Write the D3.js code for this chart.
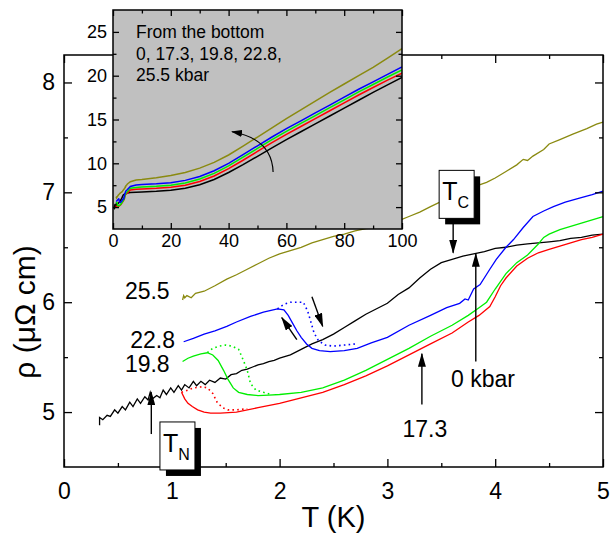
<!DOCTYPE html>
<html>
<head>
<meta charset="utf-8">
<script src="https://d3js.org/d3.v7.min.js"></script>
<style>
  body { margin: 0; background: #fff; }
  text { font-family: "Liberation Sans", Arial, Helvetica, sans-serif; fill: #000; }
  .frame { fill: none; stroke: #000; stroke-width: 1.5; }
  .axis path { display: none; }
  .axis line { stroke: #000; stroke-width: 1.3; }
</style>
</head>
<body>
<script>
// ---- main panel data: [T (K), rho (uOhm cm)] ----
var p0 = [[0.33,4.88],[0.33,4.95],[0.36,4.93],[0.40,4.97],[0.43,4.96],[0.47,5.02],[0.50,4.99],[0.54,5.05],[0.57,5.02],
  [0.61,5.09],[0.64,5.05],[0.68,5.12],[0.71,5.08],[0.75,5.14],[0.78,5.11],[0.80,5.18],[0.82,5.12],[0.86,5.15],[0.89,5.13],
  [0.92,5.20],[0.95,5.16],[0.99,5.22],[1.02,5.18],[1.06,5.24],[1.09,5.20],[1.12,5.25],[1.16,5.22],[1.20,5.28],[1.23,5.24],
  [1.27,5.28],[1.31,5.25],[1.35,5.29],[1.40,5.27],[1.45,5.31],[1.50,5.30],[1.55,5.34],[1.60,5.35],[1.65,5.38],[1.70,5.39],
  [1.75,5.41],[1.80,5.43],[1.85,5.44],[1.90,5.46],[1.95,5.47],[2.00,5.49],[2.10,5.52],[2.20,5.57],[2.30,5.62],[2.40,5.66],
  [2.50,5.71],[2.60,5.77],[2.70,5.83],[2.80,5.89],[2.90,5.94],[3.00,5.99],[3.10,6.07],[3.20,6.13],[3.30,6.22],[3.40,6.30],
  [3.50,6.36],[3.60,6.39],[3.70,6.42],[3.80,6.44],[3.90,6.46],[4.00,6.49],[4.10,6.50],[4.20,6.52],[4.30,6.53],[4.40,6.54],
  [4.50,6.55],[4.60,6.56],[4.70,6.58],[4.80,6.59],[4.90,6.61],[5.00,6.62]];

var p173 = [[1.09,5.18],[1.12,5.12],[1.15,5.08],[1.19,5.05],[1.24,5.02],[1.30,5.00],[1.36,4.99],[1.45,4.99],[1.60,5.00],
  [1.80,5.04],[2.00,5.08],[2.20,5.13],[2.40,5.18],[2.60,5.25],[2.80,5.33],[3.00,5.42],[3.20,5.52],[3.40,5.62],[3.60,5.72],
  [3.75,5.82],[3.85,5.88],[3.95,5.96],[4.00,6.05],[4.05,6.15],[4.10,6.22],[4.20,6.33],[4.30,6.40],[4.40,6.45],[4.50,6.48],
  [4.60,6.51],[4.70,6.54],[4.80,6.57],[4.90,6.59],[5.00,6.62]];
var p173dot = [[1.09,5.18],[1.15,5.20],[1.20,5.22],[1.28,5.23],[1.33,5.22],[1.38,5.17],[1.42,5.09],[1.47,5.04],[1.52,5.02],
  [1.60,5.02],[1.70,5.03]];

var p198 = [[1.10,5.46],[1.15,5.49],[1.20,5.51],[1.27,5.53],[1.33,5.54],[1.38,5.52],[1.43,5.47],[1.48,5.38],[1.52,5.30],
  [1.57,5.22],[1.62,5.18],[1.70,5.16],[1.80,5.15],[1.90,5.155],[2.00,5.16],[2.20,5.18],[2.40,5.22],[2.60,5.29],[2.80,5.38],
  [3.00,5.48],[3.20,5.58],[3.40,5.69],[3.60,5.79],[3.75,5.88],[3.85,5.95],[3.92,6.00],[4.00,6.12],[4.10,6.26],[4.20,6.36],
  [4.30,6.43],[4.40,6.53],[4.45,6.59],[4.50,6.62],[4.60,6.66],[4.80,6.72],[5.00,6.78]];
var p198dot = [[1.33,5.54],[1.38,5.58],[1.44,5.60],[1.50,5.61],[1.56,5.60],[1.62,5.57],[1.66,5.48],[1.70,5.38],[1.73,5.26],
  [1.78,5.20],[1.85,5.18],[1.92,5.16]];

var p228 = [[1.11,5.64],[1.20,5.67],[1.30,5.71],[1.40,5.74],[1.51,5.78],[1.60,5.82],[1.73,5.87],[1.85,5.91],[1.98,5.94],
  [2.04,5.93],[2.08,5.88],[2.12,5.81],[2.16,5.74],[2.20,5.68],[2.25,5.62],[2.30,5.58],[2.37,5.56],[2.47,5.55],[2.60,5.56],
  [2.72,5.58],[2.85,5.63],[3.00,5.68],[3.20,5.79],[3.40,5.88],[3.55,5.95],[3.67,5.99],[3.72,6.03],[3.75,6.02],[3.80,6.12],
  [3.86,6.16],[3.95,6.30],[4.01,6.39],[4.10,6.50],[4.17,6.57],[4.26,6.68],[4.35,6.78],[4.45,6.83],[4.54,6.87],[4.65,6.91],
  [4.79,6.95],[4.90,6.98],[5.00,7.01]];
var p228dot = [[1.98,5.94],[2.04,5.98],[2.10,6.00],[2.17,6.00],[2.22,6.00],[2.26,5.92],[2.29,5.82],[2.32,5.72],[2.36,5.65],
  [2.42,5.61],[2.50,5.60],[2.60,5.61],[2.70,5.62]];

var p255 = [[1.10,6.02],[1.11,6.06],[1.12,6.04],[1.14,6.06],[1.18,6.04],[1.22,6.08],[1.30,6.10],[1.40,6.15],[1.51,6.21],
  [1.60,6.25],[1.70,6.30],[1.80,6.35],[1.90,6.40],[2.00,6.44],[2.10,6.47],[2.20,6.50],[2.30,6.54],[2.40,6.57],[2.50,6.60],
  [2.60,6.62],[2.70,6.65],[2.80,6.67],[2.90,6.68],[3.00,6.71],[3.10,6.74],[3.20,6.78],[3.30,6.82],[3.40,6.87],[3.55,6.94],
  [3.70,7.01],[3.80,7.05],[3.92,7.09],[4.00,7.13],[4.10,7.19],[4.20,7.25],[4.26,7.30],[4.30,7.29],[4.35,7.33],[4.45,7.39],
  [4.50,7.44],[4.60,7.48],[4.72,7.53],[4.85,7.58],[4.94,7.62],[5.00,7.64]];

// ---- inset data above 5 K (same order of curves) ----
var insetT   = [6, 8, 10, 15, 20, 25, 30, 35, 40, 45, 50, 55, 60, 65, 70, 75, 80, 85, 90, 95, 100];
var inset0   = [6.66,6.70,6.72,6.80,6.92,7.15,7.55,8.15,8.95,9.85,10.8,11.75,12.7,13.6,14.5,15.4,16.3,17.2,18.1,18.95,19.8];
var inset173 = [6.95,7.03,7.08,7.15,7.27,7.50,7.92,8.55,9.40,10.35,11.35,12.35,13.3,14.2,15.1,16.0,16.9,17.8,18.65,19.5,20.3];
var inset198 = [7.15,7.25,7.30,7.38,7.50,7.75,8.20,8.85,9.70,10.7,11.7,12.7,13.65,14.55,15.45,16.35,17.25,18.15,19.0,19.85,20.65];
var inset228 = [7.35,7.52,7.58,7.66,7.78,8.05,8.50,9.15,10.0,11.0,12.0,13.0,13.95,14.85,15.75,16.65,17.55,18.45,19.3,20.15,21.0];
var inset255 = [7.90,8.10,8.15,8.35,8.60,8.95,9.45,10.1,10.95,11.95,13.0,14.05,15.1,16.1,17.1,18.1,19.05,20.0,20.95,22.0,23.1];

var colors = ["#000000", "#ff0000", "#00ee00", "#0000ff", "#8a8a10"];
var pressureLabels = ["0 kbar", "17.3", "19.8", "22.8", "25.5"];

var xTicks = [0, 1, 2, 3, 4, 5], xMinor = [0.5, 1.5, 2.5, 3.5, 4.5];
var yTicks = [5, 6, 7, 8], yMinor = [5.5, 6.5, 7.5];
var ixTicks = [0, 20, 40, 60, 80, 100], ixMinor = [10, 30, 50, 70, 90];
var iyTicks = [5, 10, 15, 20, 25], iyMinor = [7.5, 12.5, 17.5, 22.5];

var W = 610, H = 535;
var svg = d3.select("body").append("svg").attr("width", W).attr("height", H);

var defs = svg.append("defs");
defs.append("marker").attr("id", "arr").attr("markerUnits", "userSpaceOnUse")
  .attr("markerWidth", 14).attr("markerHeight", 8).attr("refX", 13).attr("refY", 4).attr("orient", "auto")
  .append("path").attr("d", "M0,0 L14,4 L0,8 z").attr("fill", "#000");
defs.append("marker").attr("id", "arrs").attr("markerUnits", "userSpaceOnUse")
  .attr("markerWidth", 11).attr("markerHeight", 7).attr("refX", 10).attr("refY", 3.5).attr("orient", "auto")
  .append("path").attr("d", "M0,0 L11,3.5 L0,7 z").attr("fill", "#000");

// ---- main panel ----
var x = d3.scaleLinear().domain([0, 5]).range([64, 603]);
var y = d3.scaleLinear().domain([4.5, 8.25]).range([467, 55]);
var line = d3.line().x(d => x(d[0])).y(d => y(d[1]));

var g = svg.append("g");
var solids = [p0, p173, p198, p228, p255];
solids.forEach(function (s, i) {
  g.append("path").datum(s).attr("d", line).attr("fill", "none")
    .attr("stroke", colors[i]).attr("stroke-width", 1.3);
});
[[p173dot, 1], [p198dot, 2], [p228dot, 3]].forEach(function (s) {
  g.append("path").datum(s[0]).attr("d", line).attr("fill", "none")
    .attr("stroke", colors[s[1]]).attr("stroke-width", 1.6).attr("stroke-dasharray", "1.6,3.2");
});

// axes (ticks inward)
function addAxis(sel, axis, tr) {
  return sel.append("g").attr("class", "axis").attr("transform", tr).call(axis);
}
var fmt = d3.format("d");
addAxis(g, d3.axisBottom(x).tickValues(xTicks).tickSize(-8).tickPadding(16).tickFormat(fmt), "translate(0,467)")
  .selectAll("text").style("font-size", "23px");
addAxis(g, d3.axisBottom(x).tickValues(xMinor).tickSize(-4).tickFormat(""), "translate(0,467)");
addAxis(g, d3.axisTop(x).tickValues(xTicks).tickSize(-8).tickFormat(""), "translate(0,55)");
addAxis(g, d3.axisTop(x).tickValues(xMinor).tickSize(-4).tickFormat(""), "translate(0,55)");
addAxis(g, d3.axisLeft(y).tickValues(yTicks).tickSize(-8).tickPadding(9).tickFormat(fmt), "translate(64,0)")
  .selectAll("text").style("font-size", "23px");
addAxis(g, d3.axisLeft(y).tickValues(yMinor).tickSize(-4).tickFormat(""), "translate(64,0)");
addAxis(g, d3.axisRight(y).tickValues(yTicks).tickSize(-8).tickFormat(""), "translate(603,0)");
addAxis(g, d3.axisRight(y).tickValues(yMinor).tickSize(-4).tickFormat(""), "translate(603,0)");
g.append("rect").attr("class", "frame").attr("x", 64).attr("y", 55).attr("width", 539).attr("height", 412);

// axis titles
g.append("text").attr("x", (x(0) + x(5)) / 2).attr("y", 527).attr("text-anchor", "middle")
  .style("font-size", "29px").text("T (K)");
g.append("text").attr("transform", "translate(35,312) rotate(-90)").attr("text-anchor", "middle")
  .style("font-size", "30px").text("ρ (μΩ cm)");

// pressure labels on curves
var labelPos = [[3.59, 5.30, "start"], [3.14, 4.85, "start"], [0.98, 5.44, "end"], [1.03, 5.66, "end"], [0.98, 6.10, "end"]];
labelPos.forEach(function (p, i) {
  g.append("text").attr("x", x(p[0])).attr("y", y(p[1])).attr("dy", "0.35em")
    .attr("text-anchor", p[2]).style("font-size", "23px").text(pressureLabels[i]);
});

// arrows: [T1, rho1, T2, rho2]  (head at second point)
var arrows = [[0.81, 4.80, 0.81, 5.18], [3.61, 6.77, 3.61, 6.45], [3.82, 5.46, 3.82, 6.44],
  [3.32, 5.07, 3.32, 5.53], [2.30, 6.05, 2.40, 5.78], [2.16, 5.66, 2.02, 5.86]];
arrows.forEach(function (a) {
  g.append("line").attr("x1", x(a[0])).attr("y1", y(a[1])).attr("x2", x(a[2])).attr("y2", y(a[3]))
    .attr("stroke", "#000").attr("stroke-width", 1.4).attr("marker-end", "url(#arr)");
});

// T_C and T_N boxes (top-left corner in data units)
function labelBox(T, rho, sub) {
  var bx = x(T), by = y(rho), bw = 35, bh = 48;
  g.append("rect").attr("x", bx + 6).attr("y", by + 6).attr("width", bw).attr("height", bh).attr("fill", "#000");
  g.append("rect").attr("x", bx).attr("y", by).attr("width", bw).attr("height", bh)
    .attr("fill", "#fff").attr("stroke", "#000").attr("stroke-width", 1);
  var t = g.append("text").attr("x", bx + 3).attr("y", by + 30).style("font-size", "25px");
  t.append("tspan").text("T");
  t.append("tspan").attr("dy", 8).style("font-size", "16px").text(sub);
}
labelBox(3.48, 7.20, "C");
labelBox(0.89, 4.91, "N");

// ---- inset ----
var xi = d3.scaleLinear().domain([0, 100]).range([113, 402]);
var yi = d3.scaleLinear().domain([2.5, 27.5]).range([229, 10]);
var ig = svg.append("g");
ig.append("rect").attr("x", 113).attr("y", 10).attr("width", 289).attr("height", 219).attr("fill", "#c0c0c0");
defs.append("clipPath").attr("id", "iclip").append("rect")
  .attr("x", 113).attr("y", 10).attr("width", 289).attr("height", 219);
var iline = d3.line().x(d => xi(d[0])).y(d => yi(d[1]));
var insetHigh = [inset0, inset173, inset198, inset228, inset255];
solids.forEach(function (s, i) {
  var pts = s.concat(insetT.map(function (t, k) { return [t, insetHigh[i][k]]; }));
  ig.append("path").datum(pts).attr("d", iline).attr("clip-path", "url(#iclip)").attr("fill", "none")
    .attr("stroke", colors[i]).attr("stroke-width", 1.5);
});

addAxis(ig, d3.axisBottom(xi).tickValues(ixTicks).tickSize(-6).tickPadding(5).tickFormat(fmt), "translate(0,229)")
  .selectAll("text").style("font-size", "18px");
addAxis(ig, d3.axisBottom(xi).tickValues(ixMinor).tickSize(-3.5).tickFormat(""), "translate(0,229)");
addAxis(ig, d3.axisTop(xi).tickValues(ixTicks).tickSize(-6).tickFormat(""), "translate(0,10)");
addAxis(ig, d3.axisTop(xi).tickValues(ixMinor).tickSize(-3.5).tickFormat(""), "translate(0,10)");
addAxis(ig, d3.axisLeft(yi).tickValues(iyTicks).tickSize(-6).tickPadding(6).tickFormat(fmt), "translate(113,0)")
  .selectAll("text").style("font-size", "18px");
addAxis(ig, d3.axisLeft(yi).tickValues(iyMinor).tickSize(-3.5).tickFormat(""), "translate(113,0)");
addAxis(ig, d3.axisRight(yi).tickValues(iyTicks).tickSize(-6).tickFormat(""), "translate(402,0)");
addAxis(ig, d3.axisRight(yi).tickValues(iyMinor).tickSize(-3.5).tickFormat(""), "translate(402,0)");
ig.append("rect").attr("class", "frame").attr("x", 113).attr("y", 10).attr("width", 289).attr("height", 219);

var noteLines = ["From the bottom", "0, 17.3, 19.8, 22.8,", "25.5 kbar"];
noteLines.forEach(function (s, i) {
  ig.append("text").attr("x", 136).attr("y", 38 + i * 21.5).style("font-size", "17.5px").text(s);
});

// curved arrow in the inset (data coords: start, control, end)
var ia = [[55.4, 9.0], [55.0, 12.8], [41.2, 13.6]];
ig.append("path")
  .attr("d", "M" + xi(ia[0][0]) + "," + yi(ia[0][1]) + " Q" + xi(ia[1][0]) + "," + yi(ia[1][1]) +
    " " + xi(ia[2][0]) + "," + yi(ia[2][1]))
  .attr("fill", "none").attr("stroke", "#000").attr("stroke-width", 1.2).attr("marker-end", "url(#arrs)");
</script>
</body>
</html>
